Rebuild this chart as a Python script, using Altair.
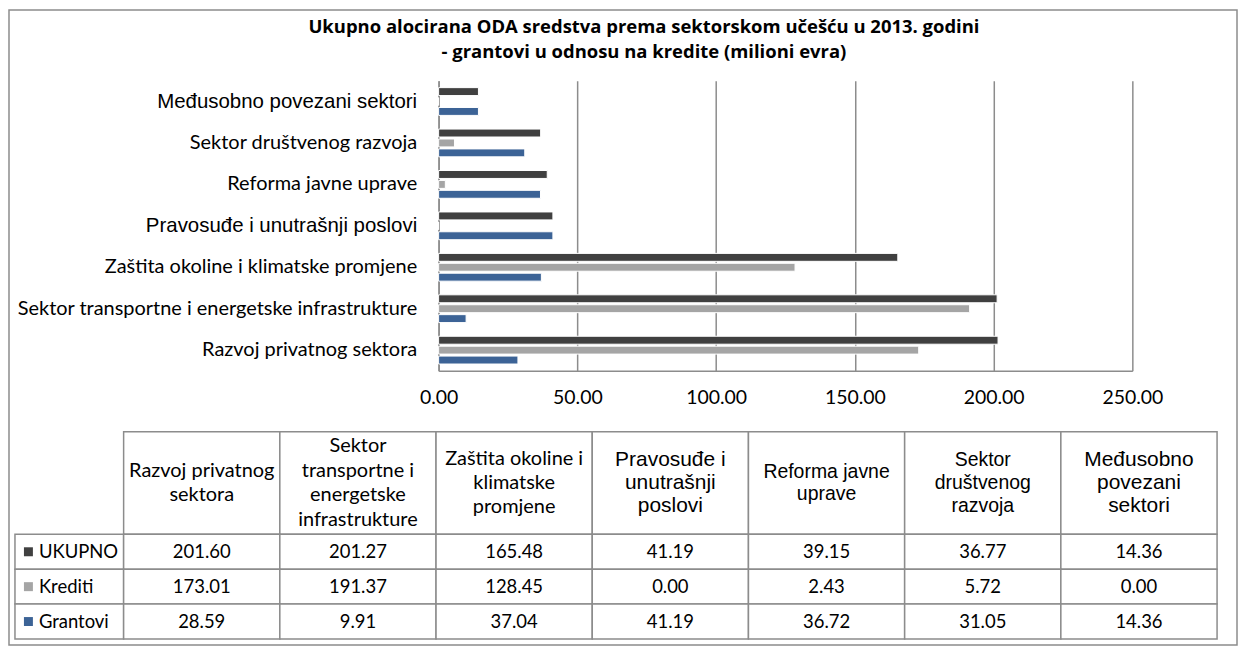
import altair as alt
import pandas as pd

# ---------------- data ----------------
sectors = [
    "Razvoj privatnog sektora",
    "Sektor transportne i energetske infrastrukture",
    "Zaštita okoline i klimatske promjene",
    "Pravosuđe i unutrašnji poslovi",
    "Reforma javne uprave",
    "Sektor društvenog razvoja",
    "Međusobno povezani sektori",
]
header_labels = [
    "Razvoj privatnog\nsektora",
    "Sektor\ntransportne i\nenergetske\ninfrastrukture",
    "Zaštita okoline i\nklimatske\npromjene",
    "Pravosuđe i\nunutrašnji\nposlovi",
    "Reforma javne\nuprave",
    "Sektor\ndruštvenog\nrazvoja",
    "Međusobno\npovezani\nsektori",
]
series = ["UKUPNO", "Krediti", "Grantovi"]
ukupno = [201.60, 201.27, 165.48, 41.19, 39.15, 36.77, 14.36]
krediti = [173.01, 191.37, 128.45, 0.00, 2.43, 5.72, 0.00]
grantovi = [28.59, 9.91, 37.04, 41.19, 36.72, 31.05, 14.36]
tick_values = [0, 50, 100, 150, 200, 250]
title_lines = [
    "Ukupno alocirana ODA sredstva prema sektorskom učešću u  2013. godini",
    "- grantovi u odnosu na kredite  (milioni evra)",
]

# ---------------- styles ----------------
colors = ["#404040", "#A5A5A5", "#3C6396"]
CAL = "Lato"
ARI = "Liberation Sans"
LINE = "#8C8C8C"
arial_axis_labels = ["Međusobno povezani sektori", "Pravosuđe i unutrašnji poslovi"]
arial_big_headers = ["Pravosuđe i unutrašnji poslovi", "Međusobno povezani sektori"]
arial_small_headers = ["Reforma javne uprave", "Sektor društvenog razvoja"]
# (font, size, line height px) per header style group
head_styles = {"cal": (CAL, 20, 24.5), "big": (ARI, 21, 23.3), "small": (ARI, 19.5, 23)}

ROW_PX = 35.0
LEG_W = 109 / 156.7      # width of legend column in column units
HEAD_H = 103 / ROW_PX    # header height in row units

# ---------------- bar chart ----------------
values_by_series = [ukupno, krediti, grantovi]
bars_df = pd.DataFrame(
    [
        {"sector": s, "series": ser, "value": v}
        for ser, vals in zip(series, values_by_series)
        for s, v in zip(sectors, vals)
    ]
)
test = " || ".join("datum.value == '%s'" % s for s in arial_axis_labels)

bars = alt.Chart(bars_df).mark_bar(stroke="white", strokeWidth=1).encode(
    x=alt.X(
        "value:Q",
        scale=alt.Scale(domain=[0, 250], nice=False),
        axis=alt.Axis(
            values=tick_values, format=".2f", title=None, grid=True,
            gridColor=LINE, gridWidth=1.5, domainColor=LINE, domainWidth=1.5,
            ticks=False, labelFont=CAL, labelFontSize=19.5, labelColor="black",
            labelPadding=18, labelFlush=False,
        ),
    ),
    y=alt.Y(
        "sector:N", sort=sectors[::-1], title=None,
        scale=alt.Scale(paddingInner=0.33, paddingOuter=0.165),
        axis=alt.Axis(
            ticks=False, domainColor=LINE, domainWidth=1.5, labelColor="black",
            labelPadding=22, labelLimit=600,
            labelFont={"condition": {"test": test, "value": ARI}, "value": CAL},
            labelFontSize={"condition": {"test": test, "value": 20.5}, "value": 20},
        ),
    ),
    yOffset=alt.YOffset("series:N", sort=series, scale=alt.Scale(paddingInner=0.2)),
    color=alt.Color("series:N", scale=alt.Scale(domain=series, range=colors), legend=None),
)

# ---------------- data table ----------------
TX = alt.Scale(domain=[0, 7], range=[-316, 781], nice=False, zero=False)
TY = alt.Scale(domain=[0, HEAD_H + 3], range=[352, 560], nice=False, zero=False)

cells = []
for j in range(len(sectors)):
    cells.append({"x0": j, "x1": j + 1, "y0": 0, "y1": HEAD_H})
for r in range(len(series)):
    cells.append({"x0": -LEG_W, "x1": 0, "y0": HEAD_H + r, "y1": HEAD_H + r + 1})
    for j in range(len(sectors)):
        cells.append({"x0": j, "x1": j + 1, "y0": HEAD_H + r, "y1": HEAD_H + r + 1})
cells_df = pd.DataFrame(cells)

rects = alt.Chart(cells_df).mark_rect(fill="white", stroke=LINE, strokeWidth=1.5).encode(
    x=alt.X("x0:Q", scale=TX, axis=None),
    x2="x1:Q",
    y=alt.Y("y0:Q", scale=TY, axis=None),
    y2="y1:Q",
)


def group_of(sector):
    if sector in arial_big_headers:
        return "big"
    if sector in arial_small_headers:
        return "small"
    return "cal"


head_rows = []
for j, (s, lab) in enumerate(zip(sectors, header_labels)):
    g = group_of(s)
    lh = head_styles[g][2] / ROW_PX
    parts = lab.split("\n")
    n = len(parts)
    for i, part in enumerate(parts):
        head_rows.append(
            {"sector": s, "group": g, "line": part, "xc": j + 0.5,
             "yc": HEAD_H / 2 + (i - (n - 1) / 2) * lh}
        )
head_df = pd.DataFrame(head_rows)


def header_layer(g):
    font, size, _ = head_styles[g]
    return alt.Chart(head_df).transform_filter(
        alt.FieldEqualPredicate(field="group", equal=g)
    ).mark_text(
        font=font, fontSize=size, align="center", baseline="middle", color="black",
    ).encode(
        x=alt.X("xc:Q", scale=TX, axis=None),
        y=alt.Y("yc:Q", scale=TY, axis=None),
        text="line:N",
    )


head_layers = [header_layer(g) for g in head_styles]

vals_df = pd.DataFrame(
    [
        {"series": ser, "value": v, "xc": j + 0.5, "yc": HEAD_H + r + 0.5}
        for r, (ser, vals) in enumerate(zip(series, values_by_series))
        for j, v in enumerate(vals)
    ]
)
vals = alt.Chart(vals_df).mark_text(
    font=CAL, fontSize=18.5, align="center", baseline="middle", color="black"
).encode(
    x=alt.X("xc:Q", scale=TX, axis=None),
    y=alt.Y("yc:Q", scale=TY, axis=None),
    text=alt.Text("value:Q", format=".2f"),
)

leg_df = pd.DataFrame(
    {"series": series, "x0": [-LEG_W] * 3, "yc": [HEAD_H + r + 0.5 for r in range(3)]}
)
leg_sq = alt.Chart(leg_df).mark_square(size=81, opacity=1, xOffset=13.5).encode(
    x=alt.X("x0:Q", scale=TX, axis=None),
    y=alt.Y("yc:Q", scale=TY, axis=None),
    color=alt.Color("series:N", scale=alt.Scale(domain=series, range=colors), legend=None),
)
leg_txt = alt.Chart(leg_df).mark_text(
    font=CAL, fontSize=18.5, align="left", baseline="middle", color="black", dx=24
).encode(
    x=alt.X("x0:Q", scale=TX, axis=None),
    y=alt.Y("yc:Q", scale=TY, axis=None),
    text="series:N",
)

frame = alt.Chart(pd.DataFrame({"k": [0]})).mark_rect(
    fillOpacity=0, stroke=LINE, strokeWidth=1.5
).encode(
    x=alt.value(-431), x2=alt.value(801), y=alt.value(-71), y2=alt.value(566)
)

chart = (
    alt.layer(frame, bars, rects, *head_layers, vals, leg_sq, leg_txt)
    .resolve_scale(x="independent", y="independent")
    .properties(
        width=696,
        height=291,
        padding=0,
        title=alt.Title(
            text=title_lines, anchor="middle", frame="group", dx=-142, offset=-52,
            font="Open Sans", fontSize=18.5, fontWeight="bold", color="black", lineHeight=25,
        ),
    )
    .configure_view(stroke="transparent")
)

chart.save("out.html", embed_options={"renderer": "svg", "actions": False})
